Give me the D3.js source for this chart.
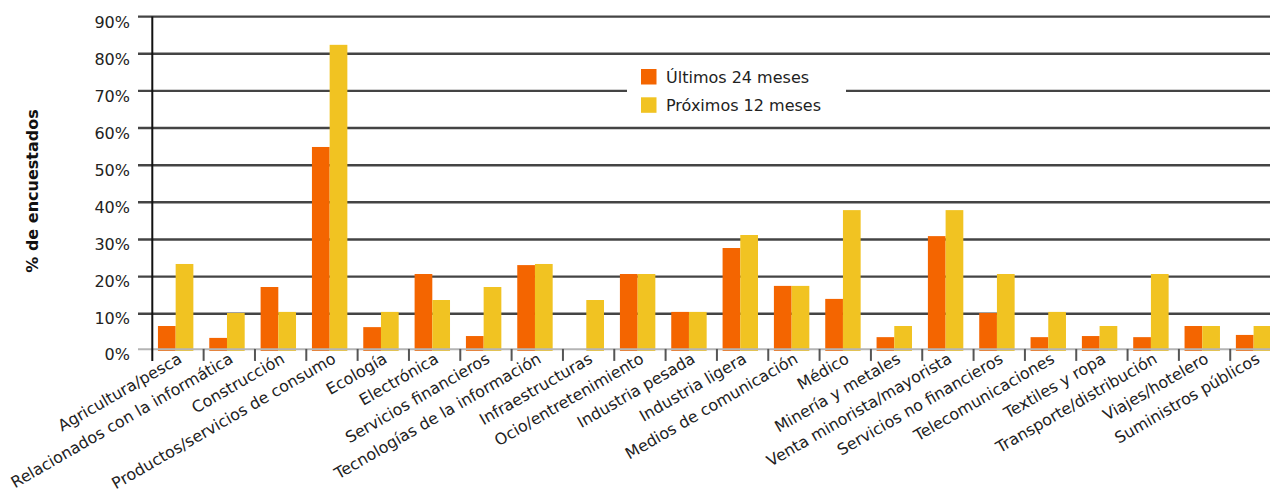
<!DOCTYPE html>
<html>
<head>
<meta charset="utf-8">
<script src="https://cdn.jsdelivr.net/npm/d3@7/dist/d3.min.js"></script>
<style>
  html, body { margin: 0; padding: 0; background: #fff; overflow: hidden; }
  svg { display: block; font-family: "DejaVu Sans", Verdana, sans-serif; }
</style>
</head>
<body>
<svg id="chart" width="1270" height="495"></svg>
<script>
// Sectores encuestados
const categories = [
  "Agricultura/pesca",
  "Relacionados con la informática",
  "Construcción",
  "Productos/servicios de consumo",
  "Ecología",
  "Electrónica",
  "Servicios financieros",
  "Tecnologías de la información",
  "Infraestructuras",
  "Ocio/entretenimiento",
  "Industria pesada",
  "Industria ligera",
  "Medios de comunicación",
  "Médico",
  "Minería y metales",
  "Venta minorista/mayorista",
  "Servicios no financieros",
  "Telecomunicaciones",
  "Textiles y ropa",
  "Transporte/distribución",
  "Viajes/hotelero",
  "Suministros públicos"
];

// % de encuestados por periodo
const ultimos24 = [6.7, 3.5, 17.2, 54.9, 6.4, 20.7, 4.0, 23.1, 0, 20.7, 10.5, 27.7,
                   17.5, 14.0, 3.7, 30.9, 10.2, 3.7, 4.0, 3.7, 6.7, 4.3];
const proximos12 = [23.4, 10.2, 10.5, 82.4, 10.5, 13.7, 17.2, 23.4, 13.7, 20.7, 10.5, 31.2,
                    17.5, 37.9, 6.7, 37.9, 20.7, 10.5, 6.7, 20.7, 6.7, 6.7];

const seriesNames = ["Últimos 24 meses", "Próximos 12 meses"];
const seriesColors = ["#f46500", "#f1c322"];
const yTicks = [0, 10, 20, 30, 40, 50, 60, 70, 80, 90];

const svg = d3.select("#chart");

const left = 152.3;
const step = 51.33;
const x = d3.scaleBand().domain(categories).range([left, left + step * categories.length]).padding(0);
const bw = x.bandwidth();
const xs = d3.scaleBand().domain(seriesNames).range([bw * 0.11, bw * 0.80]).padding(0);
const y = d3.scaleLinear().domain([0, 90]).range([350.9, 16.6]);

// Líneas de cuadrícula
svg.append("g")
  .selectAll("line")
  .data(yTicks.filter(d => d > 0))
  .join("line")
  .attr("x1", 138).attr("x2", 1270)
  .attr("y1", d => y(d)).attr("y2", d => y(d))
  .attr("stroke", "#444")
  .attr("stroke-width", 2.4);

// Barras
const rows = categories.map((c, i) => ({ c, vals: [ultimos24[i], proximos12[i]] }));
const groups = svg.append("g")
  .selectAll("g")
  .data(rows)
  .join("g")
  .attr("transform", d => `translate(${x(d.c)},0)`);

groups.selectAll("rect")
  .data(d => d.vals.map((v, k) => ({ v, k })))
  .join("rect")
  .attr("x", d => xs(seriesNames[d.k]))
  .attr("width", xs.bandwidth())
  .attr("y", d => y(d.v))
  .attr("height", d => y(0) - y(d.v))
  .attr("fill", d => seriesColors[d.k]);

// Línea base (0%)
svg.append("line")
  .attr("x1", 138).attr("x2", 1270)
  .attr("y1", y(0) - 1.6).attr("y2", y(0) - 1.6)
  .attr("stroke", "#b4b4b4")
  .attr("stroke-width", 2);

// Marcas entre categorías
svg.append("g")
  .selectAll("line")
  .data(categories.slice(1))
  .join("line")
  .attr("x1", d => x(d)).attr("x2", d => x(d))
  .attr("y1", y(0) - 2).attr("y2", y(0) + 10)
  .attr("stroke", "#555")
  .attr("stroke-width", 2);

// Eje vertical
svg.append("line")
  .attr("x1", left).attr("x2", left)
  .attr("y1", y(90)).attr("y2", y(0) + 10)
  .attr("stroke", "#111")
  .attr("stroke-width", 2);

// Etiquetas del eje Y
svg.append("g")
  .selectAll("text")
  .data(yTicks)
  .join("text")
  .attr("x", 130)
  .attr("y", d => y(d) + 5 + d * 0.025)
  .attr("text-anchor", "end")
  .attr("dominant-baseline", "middle")
  .attr("font-size", 16)
  .attr("fill", "#222")
  .text(d => d + "%");

// Título del eje Y
svg.append("text")
  .attr("transform", "translate(38,191) rotate(-90)")
  .attr("text-anchor", "middle")
  .attr("font-size", 16)
  .attr("font-weight", "bold")
  .attr("fill", "#111")
  .text("% de encuestados");

// Etiquetas de categorías
svg.append("g")
  .selectAll("text")
  .data(categories)
  .join("text")
  .attr("transform", d => `translate(${x(d) + bw / 2 + 5},${y(0) + 11}) rotate(-30)`)
  .attr("text-anchor", "end")
  .attr("font-size", 15.9)
  .attr("fill", "#222")
  .text(d => d);

// Leyenda
const legend = svg.append("g");
legend.append("rect")
  .attr("x", 627).attr("y", 57)
  .attr("width", 219).attr("height", 69)
  .attr("fill", "#fff");
const items = legend.selectAll("g")
  .data(seriesNames)
  .join("g")
  .attr("transform", (d, i) => `translate(641,${69 + i * 28.3})`);
items.append("rect")
  .attr("width", 15.5).attr("height", 15.5)
  .attr("fill", (d, i) => seriesColors[i]);
items.append("text")
  .attr("x", 25).attr("y", 14)
  .attr("font-size", 16)
  .attr("fill", "#222")
  .text(d => d);
</script>
</body>
</html>
